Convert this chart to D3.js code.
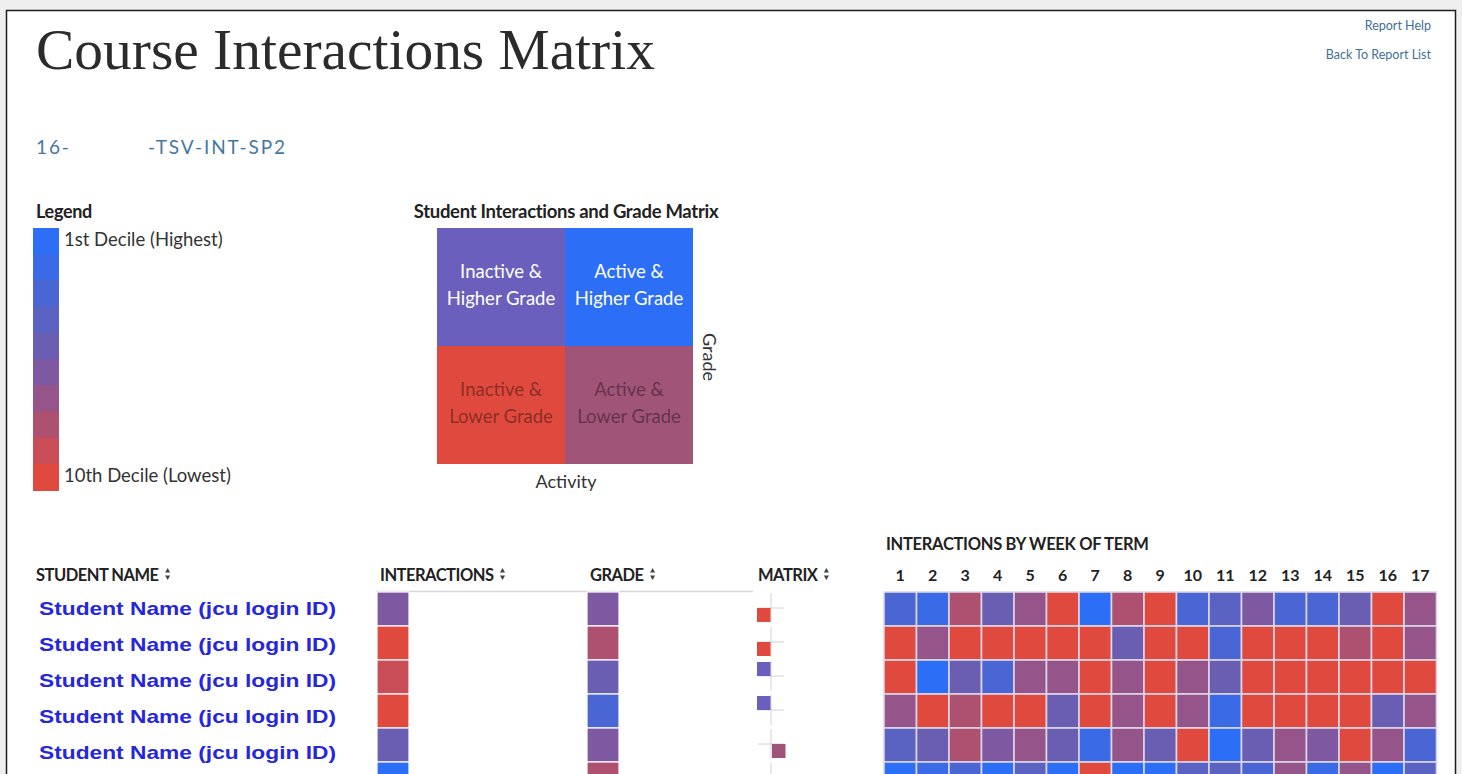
<!DOCTYPE html>
<html>
<head>
<meta charset="utf-8">
<script src="https://cdn.jsdelivr.net/npm/d3@7"></script>
<style>
  body { margin: 0; background: #efefef; overflow: hidden; }
  svg { display: block; }
  .ui { font-family: Lato, "Noto Sans", sans-serif; }
</style>
</head>
<body>
<svg id="page" width="1462" height="774"></svg>
<script>
// ---- data ----
const weeks = [1, 2, 3, 4, 5, 6, 7, 8, 9, 10, 11, 12, 13, 14, 15, 16, 17];
const students = [
  'Student Name (jcu login ID)',
  'Student Name (jcu login ID)',
  'Student Name (jcu login ID)',
  'Student Name (jcu login ID)',
  'Student Name (jcu login ID)',
  'Student Name (jcu login ID)',
];
// decile 1 = highest, 10 = lowest
const interactionDecile = [6, 10, 9, 10, 5, 1];
const gradeDecile = [6, 8, 5, 3, 6, 8];
const weeklyDecile = [
  [3, 2, 8, 5, 7, 10, 1, 8, 10, 3, 4, 6, 3, 3, 5, 10, 7],
  [10, 7, 10, 10, 10, 10, 10, 5, 10, 10, 3, 10, 10, 10, 8, 10, 7],
  [10, 1, 5, 3, 7, 7, 10, 7, 10, 7, 5, 10, 10, 10, 10, 10, 10],
  [7, 10, 8, 10, 10, 5, 10, 7, 10, 7, 2, 10, 10, 10, 10, 5, 7],
  [4, 5, 8, 6, 7, 5, 2, 7, 5, 10, 1, 5, 7, 6, 10, 7, 3],
  [1, 2, 3, 1, 4, 1, 10, 1, 1, 4, 4, 3, 7, 2, 7, 1, 4],
];
const deciles = [1, 2, 3, 4, 5, 6, 7, 8, 9, 10];
const quadrants = [
  { active: false, higher: true, lines: ['Inactive &', 'Higher Grade'] },
  { active: true, higher: true, lines: ['Active &', 'Higher Grade'] },
  { active: false, higher: false, lines: ['Inactive &', 'Lower Grade'] },
  { active: true, higher: false, lines: ['Active &', 'Lower Grade'] },
];

// ---- styling ----
const decileColor = d3.scaleOrdinal()
  .domain(deciles)
  .range(['#2c6ef6', '#3a6ae6', '#4a66d4', '#5a62c2', '#6a5eb3',
          '#7e59a2', '#96558a', '#ae5170', '#c84d56', '#e04a3e']);
const quadColor = (q) => q.higher
  ? (q.active ? '#2c6ef6' : '#6a5fbd')
  : (q.active ? '#a05478' : '#e04a3e');

const svg = d3.select('#page');
const H = 774;

// page frame
svg.append('rect')
  .attr('x', 6.5).attr('y', 10.5)
  .attr('width', 1449).attr('height', 800)
  .attr('fill', '#fff').attr('stroke', '#1e1e1e').attr('stroke-width', 1.5);

// title, fitted to the screenshot width
const title = svg.append('text')
  .attr('x', 36).attr('y', 69)
  .attr('font-family', '"Liberation Serif", "DejaVu Serif", serif')
  .attr('font-size', 54)
  .attr('fill', '#2b2b2b')
  .text('Course Interactions Matrix');
const tw = title.node().getComputedTextLength();
title.attr('font-size', 54 * 619 / tw);

// course code (middle part redacted in the original)
const sub = svg.append('g').attr('class', 'ui').attr('fill', '#4677a3')
  .attr('font-size', 19).attr('letter-spacing', 1.9);
sub.append('text').attr('x', 36).attr('y', 154).text('16-');
sub.append('text').attr('x', 148).attr('y', 154).text('-TSV-INT-SP2');

// top-right links
const links = svg.append('g').attr('class', 'ui')
  .attr('fill', '#3f6e98').attr('font-size', 12.5).attr('text-anchor', 'end');
links.append('text').attr('x', 1431).attr('y', 30).text('Report Help');
links.append('text').attr('x', 1431).attr('y', 59).text('Back To Report List');

// ---- legend ----
const legend = svg.append('g').attr('class', 'ui');
legend.append('text').attr('x', 36).attr('y', 218)
  .attr('font-weight', 'bold').attr('font-size', 18).attr('letter-spacing', -0.3).attr('fill', '#222')
  .text('Legend');
const legendY = d3.scaleBand().domain(deciles).range([228, 490]);
legend.selectAll('rect')
  .data(deciles)
  .join('rect')
  .attr('x', 33).attr('width', 26)
  .attr('y', (d) => legendY(d))
  .attr('height', legendY.bandwidth() + 1)
  .attr('fill', (d) => decileColor(d));
legend.append('text').attr('x', 64).attr('y', 246)
  .attr('font-size', 18.5).attr('fill', '#333').text('1st Decile (Highest)');
legend.append('text').attr('x', 64).attr('y', 482)
  .attr('font-size', 18.5).attr('fill', '#333').text('10th Decile (Lowest)');

// ---- interactions / grade matrix key ----
const mk = svg.append('g').attr('class', 'ui');
mk.append('text').attr('x', 566).attr('y', 218)
  .attr('text-anchor', 'middle').attr('font-weight', 'bold')
  .attr('font-size', 18.5).attr('letter-spacing', -0.3).attr('fill', '#222')
  .text('Student Interactions and Grade Matrix');
const mx = d3.scaleBand().domain([false, true]).range([437, 693]);
const my = d3.scaleBand().domain([true, false]).range([228, 464]);
const quad = mk.selectAll('g.quad')
  .data(quadrants)
  .join('g')
  .attr('class', 'quad');
quad.append('rect')
  .attr('x', (d) => mx(d.active)).attr('y', (d) => my(d.higher))
  .attr('width', mx.bandwidth()).attr('height', my.bandwidth())
  .attr('fill', (d) => quadColor(d));
quad.selectAll('text')
  .data((d) => d.lines.map((t, i) => ({ q: d, t, i })))
  .join('text')
  .attr('x', (d) => mx(d.q.active) + mx.bandwidth() / 2)
  .attr('y', (d) => my(d.q.higher) + 50 + d.i * 27)
  .attr('text-anchor', 'middle')
  .attr('font-size', 18.5)
  .attr('fill', (d) => (d.q.higher ? '#fff' : '#000'))
  .attr('fill-opacity', (d) => (d.q.higher ? 1 : 0.4))
  .text((d) => d.t);
mk.append('text').attr('x', 566).attr('y', 488)
  .attr('text-anchor', 'middle').attr('font-size', 18).attr('fill', '#333')
  .text('Activity');
mk.append('text')
  .attr('transform', 'translate(703,357) rotate(90)')
  .attr('text-anchor', 'middle').attr('font-size', 18).attr('fill', '#333')
  .text('Grade');

// ---- student table ----
const rowY = d3.scaleBand().domain(d3.range(students.length)).range([592, 592 + 34 * students.length]);
const nameY = d3.scaleLinear().domain([0, 1]).range([615, 651]);
const table = svg.append('g').attr('class', 'ui');

function sortIcon(g, x, y) {
  const tri = d3.symbol().type(d3.symbolTriangle).size(11);
  g.append('path').attr('d', tri).attr('transform', `translate(${x},${y - 10})`).attr('fill', '#444');
  g.append('path').attr('d', tri).attr('transform', `translate(${x},${y - 4}) rotate(180)`).attr('fill', '#444');
}

const headers = [
  { label: 'STUDENT NAME', x: 36 },
  { label: 'INTERACTIONS', x: 380 },
  { label: 'GRADE', x: 590 },
  { label: 'MATRIX', x: 758 },
];
headers.forEach((h) => {
  const t = table.append('text')
    .attr('x', h.x).attr('y', 581)
    .attr('font-weight', 'bold').attr('font-size', 16.5).attr('fill', '#222')
    .attr('letter-spacing', -0.5)
    .text(h.label);
  sortIcon(table, h.x + t.node().getComputedTextLength() + 9, 581);
});

table.append('line')
  .attr('x1', 376).attr('x2', 753).attr('y1', 591.5).attr('y2', 591.5)
  .attr('stroke', '#d6d6d6').attr('stroke-width', 1.5);

// only names whose row is on screen (the sixth is below the fold)
table.selectAll('text.name')
  .data(students.filter((d, i) => nameY(i) < H))
  .join('text')
  .attr('class', 'name')
  .attr('x', 39)
  .attr('y', (d, i) => nameY(i))
  .attr('font-family', '"Liberation Sans", Arial, sans-serif')
  .attr('font-weight', 'bold').attr('font-size', 18.5).attr('fill', '#2626dc')
  .attr('textLength', 297).attr('lengthAdjust', 'spacingAndGlyphs')
  .text((d) => d);

table.selectAll('rect.inter')
  .data(interactionDecile)
  .join('rect')
  .attr('class', 'inter')
  .attr('x', 377).attr('width', 32)
  .attr('y', (d, i) => rowY(i)).attr('height', rowY.bandwidth())
  .attr('fill', (d) => decileColor(d))
  .attr('stroke', '#fff').attr('stroke-width', 1.2);

table.selectAll('rect.grade')
  .data(gradeDecile)
  .join('rect')
  .attr('class', 'grade')
  .attr('x', 587).attr('width', 32)
  .attr('y', (d, i) => rowY(i)).attr('height', rowY.bandwidth())
  .attr('fill', (d) => decileColor(d))
  .attr('stroke', '#fff').attr('stroke-width', 1.2);

// mini matrix per student: cross + square in its quadrant
const cross = table.selectAll('g.mini')
  .data(students.map((s, i) => ({
    i,
    active: interactionDecile[i] <= 5,
    higher: gradeDecile[i] <= 5,
  })))
  .join('g')
  .attr('class', 'mini')
  .attr('transform', (d) => `translate(771,${rowY(d.i) + 16})`);
cross.append('line').attr('x1', 0).attr('x2', 0).attr('y1', -15).attr('y2', 15)
  .attr('stroke', '#d2d2d2').attr('stroke-width', 1);
cross.append('line').attr('x1', -13).attr('x2', 13).attr('y1', 0).attr('y2', 0)
  .attr('stroke', '#d2d2d2').attr('stroke-width', 1);
cross.append('rect')
  .attr('x', (d) => (d.active ? 1 : -14))
  .attr('y', (d) => (d.higher ? -14 : 0))
  .attr('width', 13.5).attr('height', 14)
  .attr('fill', (d) => quadColor(d));

// ---- weekly heatmap ----
const heat = svg.append('g').attr('class', 'ui');
heat.append('text').attr('x', 886).attr('y', 550)
  .attr('font-weight', 'bold').attr('font-size', 16.5).attr('fill', '#222')
  .attr('letter-spacing', -0.3)
  .text('INTERACTIONS BY WEEK OF TERM');
const wx = d3.scaleBand().domain(weeks).range([884, 1436.5]);
heat.selectAll('text.week')
  .data(weeks)
  .join('text')
  .attr('class', 'week')
  .attr('x', (d) => wx(d) + wx.bandwidth() / 2)
  .attr('y', 581)
  .attr('text-anchor', 'middle')
  .attr('font-weight', 'bold').attr('font-size', 16).attr('fill', '#222')
  .text((d) => d);
heat.selectAll('g.hrow')
  .data(weeklyDecile)
  .join('g')
  .attr('class', 'hrow')
  .selectAll('rect')
  .data((row, i) => row.map((v, j) => ({ v, i, w: weeks[j] })))
  .join('rect')
  .attr('x', (d) => wx(d.w)).attr('width', wx.bandwidth())
  .attr('y', (d) => rowY(d.i)).attr('height', rowY.bandwidth())
  .attr('fill', (d) => decileColor(d.v))
  .attr('stroke', '#dcd6e8').attr('stroke-width', 1.6);
</script>
</body>
</html>
